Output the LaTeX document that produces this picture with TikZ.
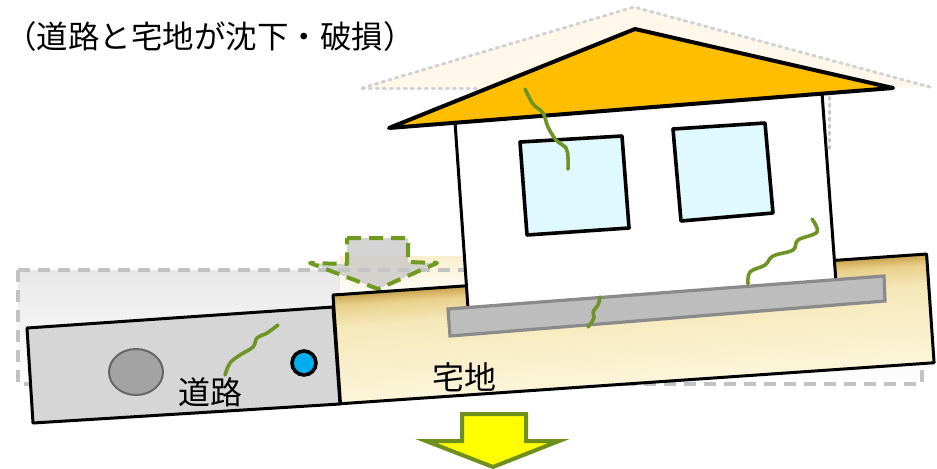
\documentclass[tikz,border=0pt]{standalone}
\usepackage{fontspec}
\newfontfamily\jpfont{Noto Sans CJK JP}
\definecolor{roofC}{HTML}{FFBF00}
\definecolor{glassC}{HTML}{DFF9FF}
\definecolor{crackC}{HTML}{6F9426}
\definecolor{dashG}{HTML}{6E9A20}
\definecolor{roadC}{HTML}{D6D6D6}
\definecolor{slabC}{HTML}{BDBDBD}
\definecolor{slabE}{HTML}{8A8A8A}
\definecolor{holeC}{HTML}{A3A3A3}
\definecolor{pipeC}{HTML}{00AEEF}
\definecolor{oldC}{HTML}{C2C2C2}
\definecolor{ghostRoof}{HTML}{FEF7EA}
\definecolor{arrowY}{HTML}{FFFF00}
\definecolor{arrowE}{HTML}{6F8F1E}
\definecolor{gTop}{HTML}{C9A24C}
\definecolor{gLight}{HTML}{E9D18C}
\definecolor{gMid}{HTML}{F6E8BA}
\definecolor{gBot}{HTML}{FCF5DA}
% soil: dark golden band under the surface, pale cream below
\pgfdeclareverticalshading{soilshade}{100bp}{color(0bp)=(gBot); color(25bp)=(gBot); color(60bp)=(gMid); color(70bp)=(gLight); color(75bp)=(gTop); color(100bp)=(gTop)}
\begin{document}
\begin{tikzpicture}[x=0.5pt,y=-0.5pt,
  outline/.style={draw=black,line width=1.5pt,line join=round},
  crack/.style={draw=crackC,line width=1.8pt,line cap=round,line join=round},
  oldline/.style={draw=oldC,line width=2pt,dash pattern=on 6pt off 4pt},
  label/.style={font=\jpfont\fontsize{16}{18}\selectfont,inner sep=0pt}]
\useasboundingbox (0,0) rectangle (937,468);

% ghost of the house before settling
\fill[ghostRoof] (362,88) -- (634,7) -- (930,87) -- cycle;
\draw[draw=gray!35,line width=1.5pt,dash pattern=on 1.2pt off 2.3pt,line cap=round]
  (362,88) -- (634,7) -- (930,87);
\draw[draw=gray!35,line width=1.5pt,dash pattern=on 1.2pt off 2.3pt,line cap=round]
  (362,88) -- (480,88);
\draw[draw=gray!45,line width=1.5pt,dash pattern=on 1.2pt off 2.3pt,line cap=round]
  (829,97) -- (829,152);

% original ground level
\shade[top color=black!9,bottom color=white] (18,270) rectangle (922,384);
\shade[top color=gMid!70,bottom color=white] (340,256) rectangle (470,300);
\draw[oldline] (18,270) -- (480,270);
\draw[oldline] (18,270) -- (18,384) -- (922,384) -- (922,270);

% settlement arrow
\draw[draw=dashG,line width=2pt,dash pattern=on 7pt off 4pt,fill=gray!45,fill opacity=0.75,line join=round]
  (347,238) -- (408,238) -- (408,262) -- (437,263) -- (378,289) -- (310,263) -- (347,264) -- cycle;

% road
\filldraw[outline,fill=roadC] (27,328) -- (333,307) -- (340,404) -- (33,423) -- cycle;
\filldraw[fill=holeC,draw=gray!80!black,line width=1pt] (136,372) ellipse [x radius=27,y radius=23];
\filldraw[fill=pipeC,draw=black,line width=1.8pt] (304,363) circle [radius=12];

% residential lot
\begin{scope}[transform canvas={rotate around={3.95:(333,295)}}]
  \path[shading=soilshade] (333,295) rectangle (928,404);
  \draw[outline] (333,295) rectangle (928,404);
\end{scope}

% house wall
\fill[white] (455,122) -- (822,93) -- (836,282) -- (468,308) -- cycle;
\draw[outline] (468,308) -- (455,122) -- (822,93) -- (836,282);

% windows
\filldraw[outline,line width=1.8pt,fill=glassC] (520,142) -- (622,136) -- (629,228) -- (527,235) -- cycle;
\filldraw[outline,line width=1.8pt,fill=glassC] (673,129) -- (765,123) -- (773,213) -- (681,221) -- cycle;

% roof
\filldraw[outline,line width=2pt,fill=roofC] (389,128) -- (635,29) -- (893,88) -- cycle;

% foundation slab
\filldraw[fill=slabC,draw=slabE,line width=1.6pt] (448,309) -- (884,276) -- (885,301) -- (450,336) -- cycle;

% cracks
\draw[crack] plot[smooth,tension=0.6] coordinates {(525,89) (533,104) (543,113) (548,127) (556,140) (566,148) (568,158) (568,169)};
\draw[crack] plot[smooth,tension=0.6] coordinates {(812,219) (817,232) (798,240) (793,250) (773,256) (765,265) (750,272) (748,284)};
\draw[crack] plot[smooth,tension=0.6] coordinates {(600,297) (598,305) (593,312) (594,318) (588,327)};
\draw[crack] plot[smooth,tension=0.6] coordinates {(278,325) (267,333) (257,338) (253,347) (240,355) (230,363) (225,375)};

% labels
\node[label] (road) at (210,392) {道路};
\node[label] (lot) at (464,377) {宅地};
\node[inner sep=0pt,font=\jpfont\fontsize{15.75}{18}\selectfont] (title) at (210,37) {（道路と宅地が沈下・破損）};

% result arrow
\filldraw[fill=arrowY,draw=arrowE,line width=2pt,line join=miter]
  (462,414) -- (526,414) -- (526,441) -- (559,441) -- (493,467) -- (426,441) -- (462,441) -- cycle;
\end{tikzpicture}
\end{document}
